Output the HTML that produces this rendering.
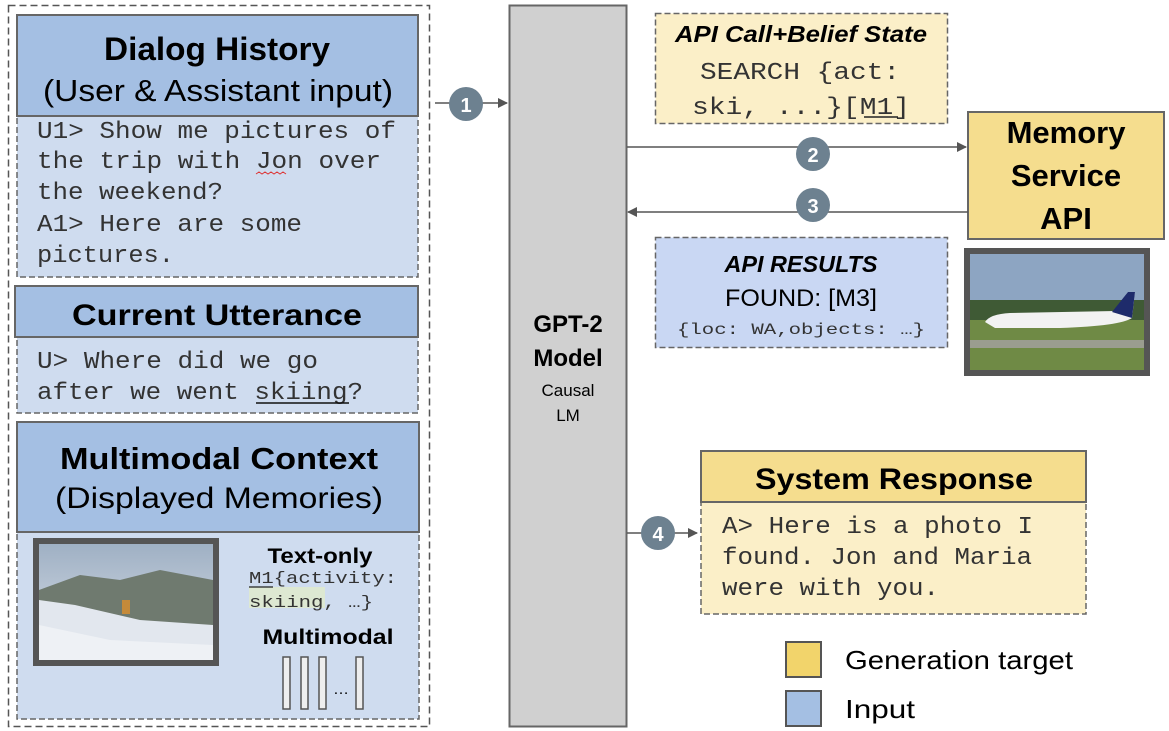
<!DOCTYPE html>
<html><head><meta charset="utf-8"><style>
html,body{margin:0;padding:0;background:#fff}
svg{display:block}
.h{font-family:"Liberation Sans",sans-serif;font-weight:bold;fill:#000}
.n{font-family:"Liberation Sans",sans-serif;fill:#000}
.m{font-family:"Liberation Mono",monospace;fill:#333}
</style></head><body>
<svg width="1169" height="731" viewBox="0 0 1169 731" xmlns="http://www.w3.org/2000/svg">
<defs>
<marker id="ar" markerWidth="10" markerHeight="10" refX="9" refY="5" orient="auto" markerUnits="userSpaceOnUse">
<path d="M0,0 L10,5 L0,10 z" fill="#555"/></marker>
<linearGradient id="sky" x1="0" y1="0" x2="0" y2="1"><stop offset="0" stop-color="#9fb0c4"/><stop offset="1" stop-color="#dde3ea"/></linearGradient>
</defs>
<rect x="8.5" y="5.5" width="421" height="721" fill="none" stroke="#555" stroke-width="1.5" stroke-dasharray="7,4"/>
<rect x="17" y="116" width="401" height="161" fill="#cfdcef" stroke="#666" stroke-width="1.5" stroke-dasharray="6,3"/>
<rect x="17" y="15" width="401" height="101" fill="#a4bfe3" stroke="#666" stroke-width="2"/>
<text class="h" x="217" y="60" font-size="32" text-anchor="middle" textLength="226" lengthAdjust="spacingAndGlyphs">Dialog History</text>
<text class="n" x="218" y="101" font-size="31" text-anchor="middle" textLength="350" lengthAdjust="spacingAndGlyphs">(User &amp; Assistant input)</text>
<g class="m" font-size="24">
<text x="37" y="138" textLength="359" lengthAdjust="spacingAndGlyphs">U1&gt; Show me pictures of</text>
<text x="37" y="168" textLength="344" lengthAdjust="spacingAndGlyphs">the trip with Jon over</text>
<text x="37" y="199" textLength="186" lengthAdjust="spacingAndGlyphs">the weekend?</text>
<text x="37" y="231" textLength="265" lengthAdjust="spacingAndGlyphs">A1&gt; Here are some</text>
<text x="37" y="262" textLength="137" lengthAdjust="spacingAndGlyphs">pictures.</text>
</g>
<path d="M256,174 l3,-2 l3,2 l3,-2 l3,2 l3,-2 l3,2 l3,-2 l3,2 l3,-2 l3,2" fill="none" stroke="#d33" stroke-width="1"/>
<rect x="17" y="337" width="401" height="76" fill="#cfdcef" stroke="#666" stroke-width="1.5" stroke-dasharray="6,3"/>
<rect x="15" y="286" width="403" height="51" fill="#a4bfe3" stroke="#666" stroke-width="2"/>
<text class="h" x="217" y="325" font-size="30" text-anchor="middle" textLength="290" lengthAdjust="spacingAndGlyphs">Current Utterance</text>
<g class="m" font-size="24">
<text x="37" y="368" textLength="281" lengthAdjust="spacingAndGlyphs">U&gt; Where did we go</text>
<text x="37" y="399" textLength="326" lengthAdjust="spacingAndGlyphs">after we went skiing?</text>
</g>
<line x1="256" y1="403" x2="349" y2="403" stroke="#111" stroke-width="1.5"/>
<rect x="17" y="532" width="402" height="187" fill="#cfdcef" stroke="#666" stroke-width="1.5" stroke-dasharray="6,3"/>
<rect x="17" y="422" width="402" height="110" fill="#a4bfe3" stroke="#666" stroke-width="2"/>
<text class="h" x="219" y="469" font-size="31" text-anchor="middle" textLength="318" lengthAdjust="spacingAndGlyphs">Multimodal Context</text>
<text class="n" x="219" y="508" font-size="30" text-anchor="middle" textLength="328" lengthAdjust="spacingAndGlyphs">(Displayed Memories)</text>
<rect x="33" y="538" width="186" height="128" fill="#555"/>
<rect x="39" y="544" width="174" height="116" fill="url(#sky)"/>
<path d="M39,590 L80,575 L120,580 L160,570 L213,580 L213,630 L39,620z" fill="#6f7a6f"/>
<path d="M39,612 L120,628 L213,640 L213,660 L39,660z" fill="#eef1f5"/>
<path d="M39,600 L75,605 L140,620 L213,625 L213,645 L110,640 L39,625z" fill="#e2e7ee"/>
<rect x="122" y="600" width="8" height="14" fill="#c58a3a"/>
<text class="h" x="320" y="563" font-size="21" text-anchor="middle" textLength="105" lengthAdjust="spacingAndGlyphs">Text-only</text>
<rect x="249" y="587" width="76" height="21" fill="#dde8d2"/>
<g class="m" font-size="17">
<text x="249" y="583" textLength="148" lengthAdjust="spacingAndGlyphs">M1{activity:</text>
<text x="249" y="607" textLength="124" lengthAdjust="spacingAndGlyphs">skiing, …}</text>
</g>
<line x1="249" y1="587" x2="273" y2="587" stroke="#222" stroke-width="1.2"/>
<text class="h" x="328" y="644" font-size="21" text-anchor="middle" textLength="131" lengthAdjust="spacingAndGlyphs">Multimodal</text>
<g fill="#eee" stroke="#555" stroke-width="1.5">
<rect x="283" y="657" width="7" height="52"/><rect x="301" y="657" width="7" height="52"/>
<rect x="319" y="657" width="7" height="52"/><rect x="356" y="657" width="7" height="52"/>
</g>
<text class="n" x="341" y="694" font-size="16" text-anchor="middle">…</text>
<rect x="509.5" y="5.5" width="117" height="721" fill="#d0d0d0" stroke="#666" stroke-width="2"/>
<text class="h" x="568" y="332" font-size="24" text-anchor="middle">GPT-2</text>
<text class="h" x="568" y="366" font-size="24" text-anchor="middle">Model</text>
<text class="n" x="568" y="396" font-size="17" text-anchor="middle">Causal</text>
<text class="n" x="568" y="421" font-size="17" text-anchor="middle">LM</text>
<line x1="435" y1="103" x2="507" y2="103" stroke="#555" stroke-width="1.5" marker-end="url(#ar)"/>
<circle cx="466" cy="104" r="17" fill="#6d8190"/>
<text class="h" x="466" y="112" font-size="20" text-anchor="middle" style="fill:#fff">1</text>
<rect x="655.5" y="13.5" width="292" height="110" fill="#fbefc8" stroke="#666" stroke-width="1.5" stroke-dasharray="6,3"/>
<text class="h" x="801" y="42" font-size="23" font-style="italic" text-anchor="middle" textLength="252" lengthAdjust="spacingAndGlyphs">API Call+Belief State</text>
<g class="m" font-size="24">
<text x="700" y="79" textLength="200" lengthAdjust="spacingAndGlyphs">SEARCH {act:</text>
<text x="692" y="114" textLength="218" lengthAdjust="spacingAndGlyphs">ski, ...}[M1]</text>
</g>
<line x1="864" y1="117" x2="898" y2="117" stroke="#222" stroke-width="1.5"/>
<line x1="627" y1="147" x2="966" y2="147" stroke="#555" stroke-width="1.5" marker-end="url(#ar)"/>
<circle cx="813" cy="154" r="17" fill="#6d8190"/>
<text class="h" x="813" y="162" font-size="20" text-anchor="middle" style="fill:#fff">2</text>
<rect x="968" y="112" width="196" height="127" fill="#f5dd8e" stroke="#666" stroke-width="2"/>
<text class="h" x="1066" y="143" font-size="31" text-anchor="middle">Memory</text>
<text class="h" x="1066" y="186" font-size="31" text-anchor="middle">Service</text>
<text class="h" x="1066" y="229" font-size="31" text-anchor="middle">API</text>
<line x1="968" y1="212" x2="628" y2="212" stroke="#555" stroke-width="1.5" marker-end="url(#ar)"/>
<circle cx="813" cy="205" r="17" fill="#6d8190"/>
<text class="h" x="813" y="213" font-size="20" text-anchor="middle" style="fill:#fff">3</text>
<rect x="655.5" y="237.5" width="292" height="110" fill="#c9d7f3" stroke="#666" stroke-width="1.5" stroke-dasharray="6,3"/>
<text class="h" x="801" y="272" font-size="23" font-style="italic" text-anchor="middle" textLength="153" lengthAdjust="spacingAndGlyphs">API RESULTS</text>
<text class="n" x="801" y="306" font-size="24" text-anchor="middle" textLength="152" lengthAdjust="spacingAndGlyphs">FOUND: [M3]</text>
<text class="m" x="801" y="334" font-size="16" text-anchor="middle" textLength="248" lengthAdjust="spacingAndGlyphs">{loc: WA,objects: …}</text>
<rect x="964" y="248" width="186" height="128" fill="#555"/>
<rect x="970" y="254" width="174" height="116" fill="#8da5c2"/>
<rect x="970" y="300" width="174" height="20" fill="#3f5a35"/>
<rect x="970" y="320" width="174" height="50" fill="#6f8a45"/>
<rect x="970" y="340" width="174" height="8" fill="#9a9d8f"/>
<path d="M985,322 Q990,314 1010,313 L1115,311 L1128,292 L1135,292 L1132,318 Q1120,326 1060,328 L995,328z" fill="#f2f2f2"/>
<path d="M1112,312 L1128,292 L1135,292 L1132,318z" fill="#1e2b6b"/>
<line x1="627" y1="533" x2="697" y2="533" stroke="#555" stroke-width="1.5" marker-end="url(#ar)"/>
<circle cx="658" cy="533" r="17" fill="#6d8190"/>
<text class="h" x="658" y="541" font-size="20" text-anchor="middle" style="fill:#fff">4</text>
<rect x="701" y="502" width="385" height="112" fill="#fbefc8" stroke="#666" stroke-width="1.5" stroke-dasharray="6,3"/>
<rect x="701" y="451" width="385" height="51" fill="#f5dd8e" stroke="#666" stroke-width="2"/>
<text class="h" x="894" y="489" font-size="30" text-anchor="middle" textLength="278" lengthAdjust="spacingAndGlyphs">System Response</text>
<g class="m" font-size="24">
<text x="722" y="533" textLength="311" lengthAdjust="spacingAndGlyphs">A&gt; Here is a photo I</text>
<text x="722" y="564" textLength="310" lengthAdjust="spacingAndGlyphs">found. Jon and Maria</text>
<text x="722" y="595" textLength="217" lengthAdjust="spacingAndGlyphs">were with you.</text>
</g>
<rect x="786" y="642" width="35" height="35" fill="#f2d46b" stroke="#555" stroke-width="2"/>
<rect x="786" y="691" width="35" height="35" fill="#a4bfe3" stroke="#555" stroke-width="2"/>
<text class="n" x="845" y="669" font-size="26" textLength="228" lengthAdjust="spacingAndGlyphs">Generation target</text>
<text class="n" x="845" y="718" font-size="26" textLength="70" lengthAdjust="spacingAndGlyphs">Input</text>
</svg>
</body></html>
